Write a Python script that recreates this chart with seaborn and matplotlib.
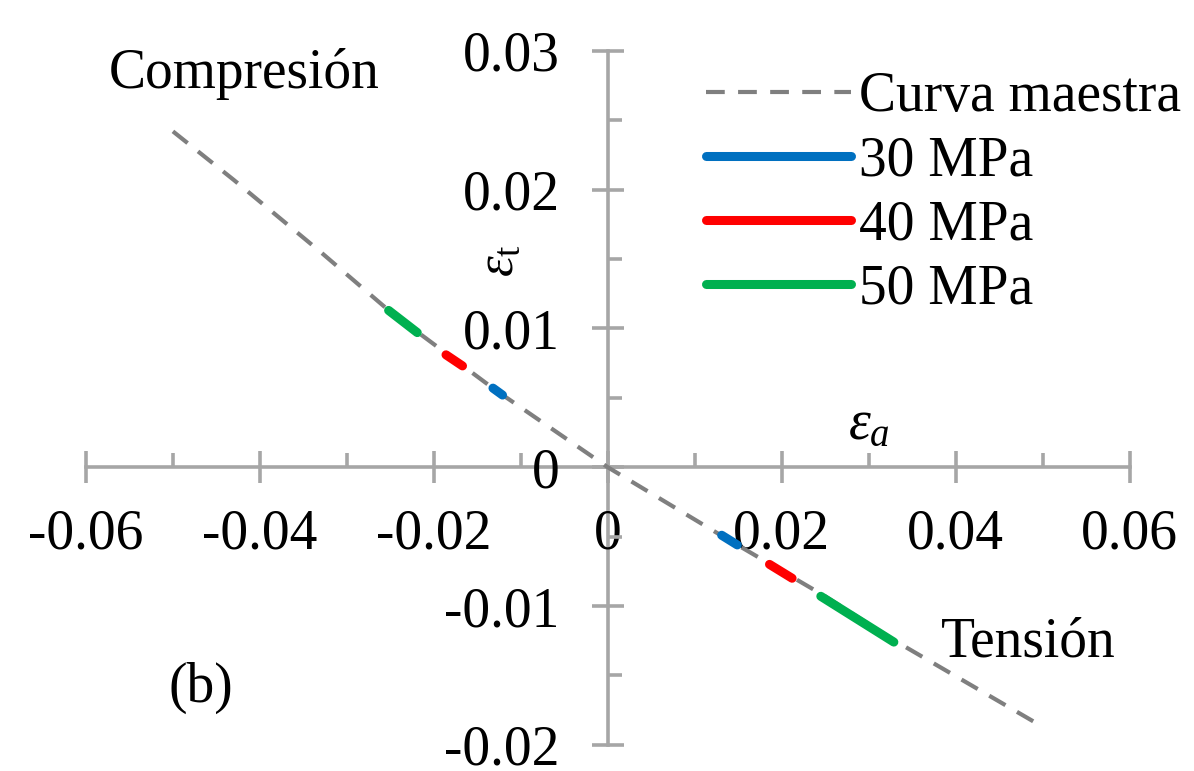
import numpy as np
import pandas as pd
import matplotlib
matplotlib.use("Agg")
import matplotlib.pyplot as plt
import seaborn as sns

# master curve (eps_a, eps_t)
master_x = [-0.050, -0.043, -0.033, -0.025, -0.013, 0.0, 0.013, 0.025, 0.033, 0.050]
master_y = [0.0242, 0.0207, 0.0155, 0.0112, 0.0056, 0.0, -0.0049, -0.0093, -0.0125, -0.0187]

# test segments: compression and tension branch per strength
p30_comp_x = [-0.0132, -0.0121]
p30_comp_y = [0.0057, 0.0052]
p30_tens_x = [0.0131, 0.0149]
p30_tens_y = [-0.0049, -0.0056]
p40_comp_x = [-0.0186, -0.0167]
p40_comp_y = [0.0081, 0.0073]
p40_tens_x = [0.0186, 0.0212]
p40_tens_y = [-0.0070, -0.0080]
p50_comp_x = [-0.0252, -0.0219]
p50_comp_y = [0.0113, 0.0097]
p50_tens_x = [0.0245, 0.0329]
p50_tens_y = [-0.0093, -0.0126]

series_names = ["30 MPa", "40 MPa", "50 MPa"]
series_colors = ["#0070C0", "#FF0000", "#00B050"]

x_ticks = [-0.06, -0.04, -0.02, 0.0, 0.02, 0.04, 0.06]
x_tick_labels = ["-0.06", "-0.04", "-0.02", "0", "0.02", "0.04", "0.06"]
y_ticks = [-0.02, -0.01, 0.0, 0.01, 0.02, 0.03]
y_tick_labels = ["-0.02", "-0.01", "0", "0.01", "0.02", "0.03"]

sns.set_style("white")
plt.rcParams["font.family"] = ["Liberation Serif", "DejaVu Serif"]
plt.rcParams["mathtext.fontset"] = "custom"
plt.rcParams["mathtext.rm"] = "Liberation Serif"
plt.rcParams["mathtext.it"] = "Liberation Serif:italic"
plt.rcParams["axes.unicode_minus"] = False
plt.rcParams["text.color"] = "black"

fig = plt.figure(figsize=(11.94, 7.71), dpi=100)
ax = fig.add_axes([0.072, 0.034, 0.874, 0.900])

master = pd.DataFrame({"ea": master_x, "et": master_y})
sns.lineplot(data=master, x="ea", y="et", ax=ax, sort=False, estimator=None,
             color="#7F7F7F", lw=3.0, dashes=False, label="Curva maestra")
ax.lines[-1].set_dashes([4.5, 3.2])

segments = [
    (p30_comp_x, p30_comp_y, p30_tens_x, p30_tens_y),
    (p40_comp_x, p40_comp_y, p40_tens_x, p40_tens_y),
    (p50_comp_x, p50_comp_y, p50_tens_x, p50_tens_y),
]
for name, col, (cx, cy, tx, ty) in zip(series_names, series_colors, segments):
    comp = pd.DataFrame({"ea": cx, "et": cy})
    tens = pd.DataFrame({"ea": tx, "et": ty})
    sns.lineplot(data=comp, x="ea", y="et", ax=ax, sort=False, estimator=None,
                 color=col, lw=6.5, solid_capstyle="round", label=name)
    sns.lineplot(data=tens, x="ea", y="et", ax=ax, sort=False, estimator=None,
                 color=col, lw=6.5, solid_capstyle="round", label="_nolegend_")

ax.set_xlim(-0.06, 0.06)
ax.set_ylim(-0.02, 0.03)
ax.set_xlabel("")
ax.set_ylabel("")

# axes crossing at the origin
axis_col = "#A6A6A6"
for side in ["top", "right"]:
    ax.spines[side].set_visible(False)
ax.spines["left"].set_position(("data", 0))
ax.spines["bottom"].set_position(("data", 0))
for side in ["left", "bottom"]:
    ax.spines[side].set_color(axis_col)
    ax.spines[side].set_linewidth(2.6)
    ax.spines[side].set_zorder(0.5)

ax.set_xticks(x_ticks, x_tick_labels)
ax.set_yticks(y_ticks, y_tick_labels)
ax.set_xticks(np.arange(-0.05, 0.06, 0.02), minor=True)
ax.set_yticks(np.arange(-0.015, 0.03, 0.01), minor=True)
ax.tick_params(which="both", bottom=True, left=True)
ax.tick_params(which="major", direction="inout", length=23, width=2.6,
               color=axis_col, labelsize=40, labelcolor="black")
ax.tick_params(axis="x", which="major", pad=18)
ax.tick_params(axis="y", which="major", pad=23)
ax.tick_params(which="minor", direction="in", length=10, width=2.6, color=axis_col)

ax.text(-0.0124, 0.0149, r"$\varepsilon_\mathrm{t}$", fontsize=38,
        rotation=90, ha="center", va="center")
ax.text(0.0300, 0.0030, r"$\varepsilon_a$", fontsize=40, ha="center", va="center")
ax.text(-0.0418, 0.0283, "Compresión", fontsize=40, ha="center", va="center")
ax.text(0.0484, -0.0126, "Tensión", fontsize=40, ha="center", va="center")
ax.text(-0.0468, -0.0159, "(b)", fontsize=40, ha="center", va="center")

leg = ax.legend(loc="upper right", bbox_to_anchor=(1.071, 1.003), frameon=False,
                fontsize=40, handlelength=2.6, handletextpad=0.15, labelspacing=0.22,
                borderaxespad=0.0)

fig.savefig("out.png", dpi=100)
